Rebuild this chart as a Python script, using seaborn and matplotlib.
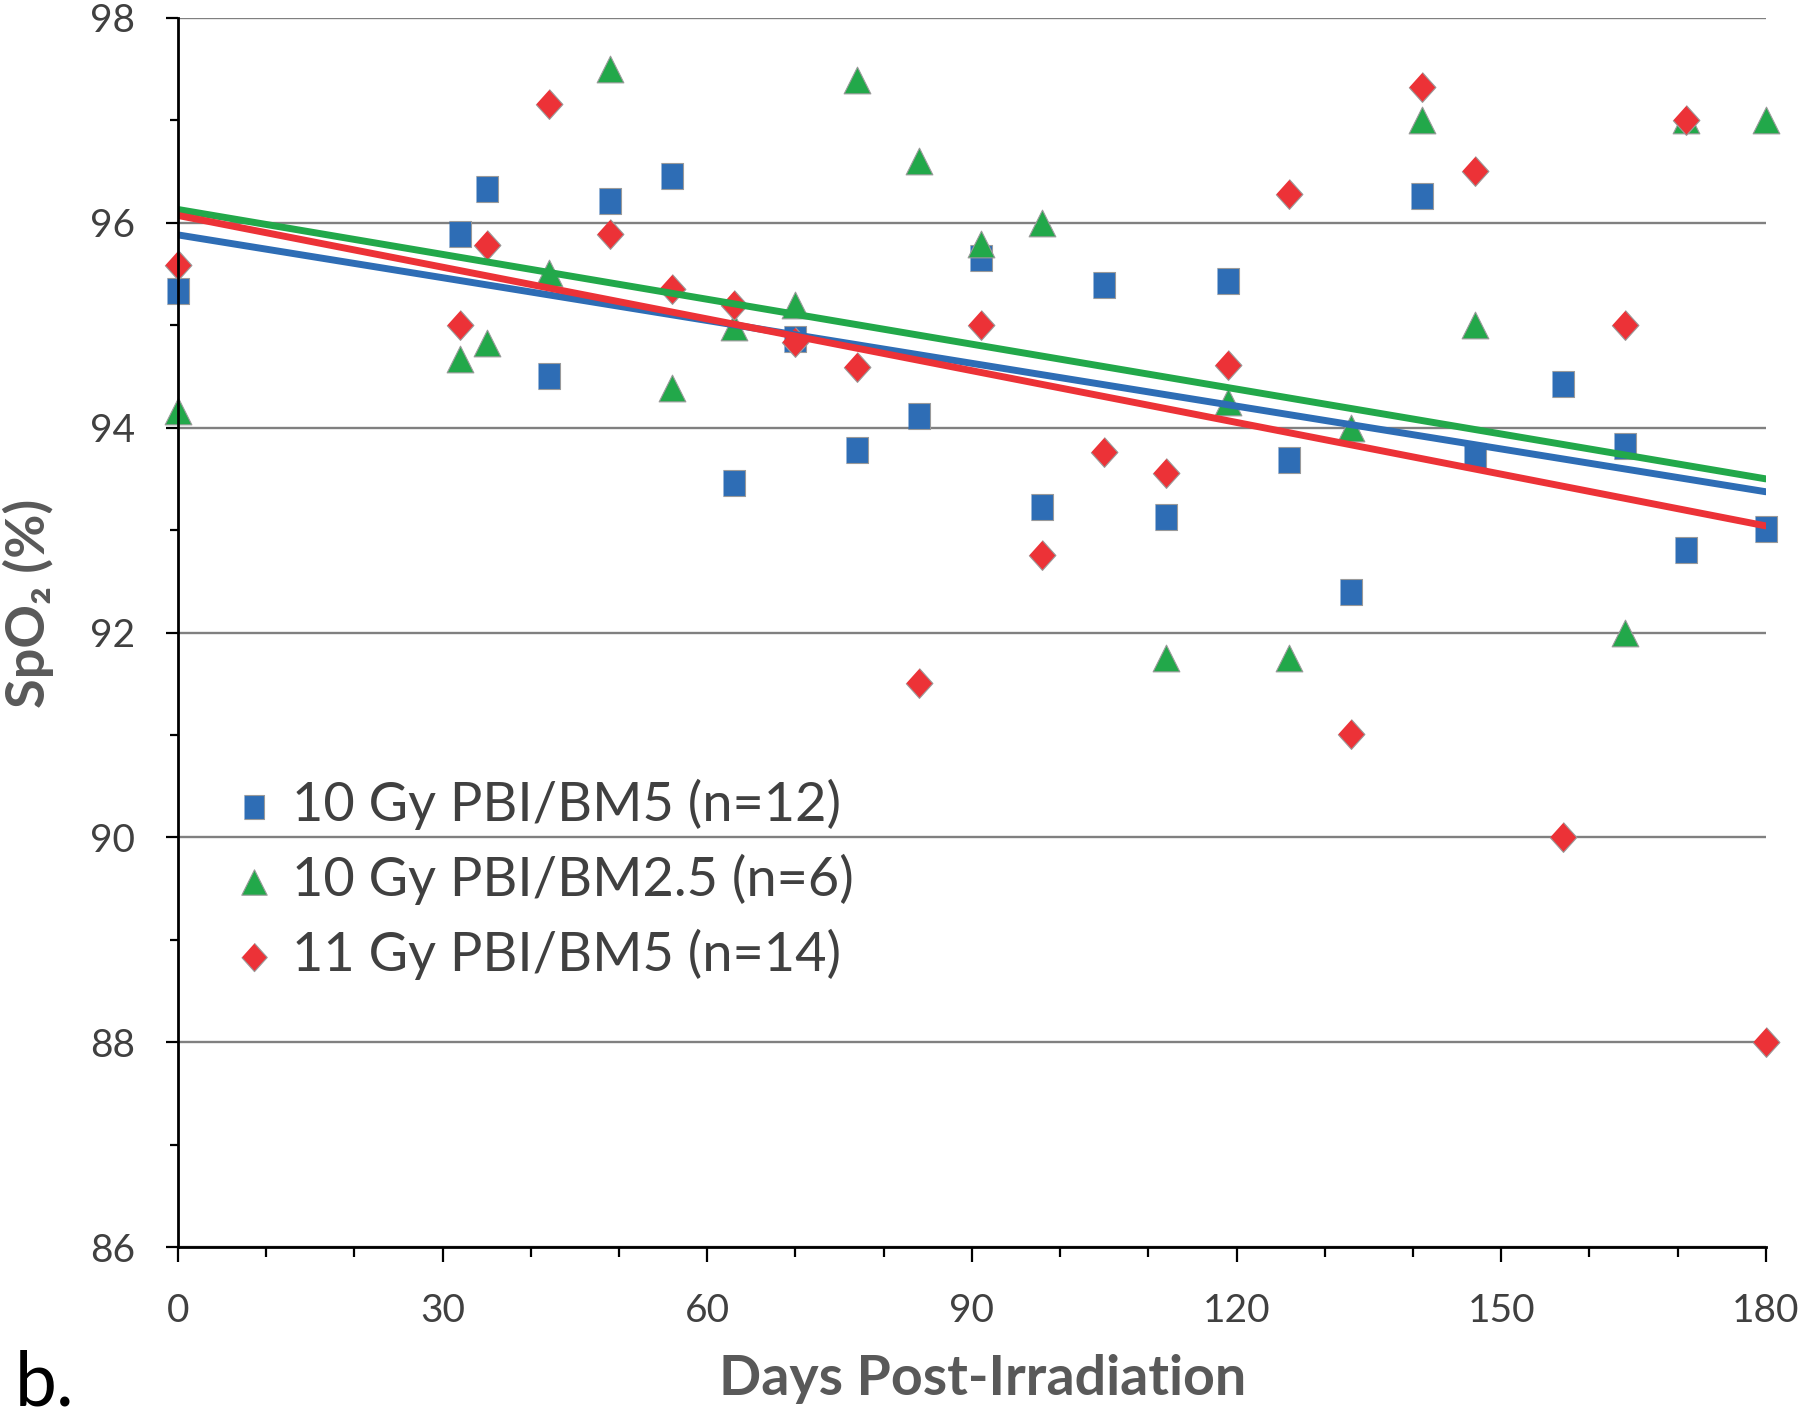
import numpy as np
import pandas as pd
import matplotlib
matplotlib.use("Agg")
import matplotlib.pyplot as plt
import seaborn as sns

sns.set_theme(style="white")
plt.rcParams['font.family'] = ['Lato', 'DejaVu Sans']

# days post-irradiation, readings per group
days = [0, 32, 35, 42, 49, 56, 63, 70, 77, 84, 91, 98, 105, 112, 119, 126, 133, 141, 147, 157, 164, 171, 180]
bm5_10gy = [95.33, 95.89, 96.33, 94.50, 96.21, 96.46, 93.46, 94.87, 93.78, 94.11, 95.66, 93.23,
            95.39, 93.13, 95.43, 93.68, 92.40, 96.26, 93.72, 94.43, 93.82, 92.81, 93.01]
days_bm25 = [0, 32, 35, 42, 49, 56, 63, 70, 77, 84, 91, 98, 112, 119, 126, 133, 141, 147, 164, 171, 180]
bm25_10gy = [94.16, 94.67, 94.83, 95.51, 97.50, 94.39, 94.98, 95.20, 97.39, 96.60, 95.79, 96.00,
             91.75, 94.25, 91.75, 94.00, 97.00, 95.00, 92.00, 97.00, 97.00]
bm5_11gy = [95.59, 95.00, 95.78, 97.16, 95.89, 95.35, 95.20, 94.84, 94.59, 91.51, 95.00, 92.76,
            93.76, 93.56, 94.61, 96.28, 91.01, 97.33, 96.51, 90.00, 95.00, 97.00, 88.00]
# the BM2.5 trendline as printed does not follow its points; ends
bm25_trend_days = [0, 180]
bm25_trend = [96.13, 93.50]

labels = ["10 Gy PBI/BM5 (n=12)", "10 Gy PBI/BM2.5 (n=6)", "11 Gy PBI/BM5 (n=14)"]
colors = ["#2E6DB5", "#22A84A", "#EC3237"]

square = [(-0.85, -1), (0.85, -1), (0.85, 1), (-0.85, 1)]
diamond = [(0, 1), (0.9, 0), (0, -1), (-0.9, 0)]
markers = [square, "^", diamond]
sizes = [340, 370, 460]

series = [(days, bm5_10gy), (days_bm25, bm25_10gy), (days, bm5_11gy)]
fit = [True, False, True]

fig, ax = plt.subplots(figsize=(18, 14.15), dpi=100)
fig.subplots_adjust(left=0.0989, right=0.981, top=0.9873, bottom=0.1187)

for (x, y), lab, c, m, s, f in zip(series, labels, colors, markers, sizes, fit):
    df = pd.DataFrame({"day": x, "spo2": y})
    sns.regplot(data=df, x="day", y="spo2", ax=ax, ci=None, truncate=True, fit_reg=f,
                marker=m, label=lab,
                scatter_kws=dict(s=s, color=c, edgecolor="#9a9a9a", linewidths=0.8, alpha=1),
                line_kws=dict(color=c, linewidth=5))
    if not f:
        sns.lineplot(x=bm25_trend_days, y=bm25_trend, ax=ax, color=c, linewidth=5)

ax.set_xlim(0, 180)
ax.set_ylim(86, 98)
ax.set_xticks(range(0, 181, 30))
ax.set_xticks(range(0, 181, 10), minor=True)
ax.set_yticks(range(86, 99, 2))
ax.set_yticks(range(87, 98, 2), minor=True)
ax.yaxis.grid(True, which="major", color="#808080", lw=1.7)
ax.set_axisbelow(True)
for sp in ["top", "right"]:
    ax.spines[sp].set_visible(False)
for sp in ["left", "bottom"]:
    ax.spines[sp].set_color("black")
    ax.spines[sp].set_linewidth(2)
for coll in ax.collections:
    coll.set_clip_on(False)

ax.tick_params(axis="x", which="major", direction="out", length=11, width=1.6, color="black",
               bottom=True, labelsize=28, labelcolor="#404040", pad=22)
ax.tick_params(axis="x", which="minor", direction="out", length=7, width=1.6, color="black", bottom=True)
ax.tick_params(axis="y", which="major", direction="out", length=9, width=1.6, color="black",
               left=True, labelsize=28, labelcolor="#404040", pad=22)
ax.tick_params(axis="y", which="minor", direction="out", length=6, width=1.6, color="black", left=True)

ax.set_xlabel("Days Post-Irradiation", fontsize=40, fontweight="bold", color="#595959")
ax.xaxis.set_label_coords(0.507, -0.087)
ax.set_ylabel("SpO₂ (%)", fontsize=39, fontweight="bold", color="#595959")
ax.yaxis.set_label_coords(-0.078, 0.524)

leg = ax.legend(loc="upper left", bbox_to_anchor=(0.034, 0.381), frameon=False, fontsize=39,
                labelcolor="#404040", handletextpad=0.3, labelspacing=0.44, markerscale=0.95,
                handlelength=0.8, borderpad=0, borderaxespad=0)

fig.text(0.008, 0.007, "b.", fontsize=54, color="black")

fig.savefig("out.png", dpi=100)
